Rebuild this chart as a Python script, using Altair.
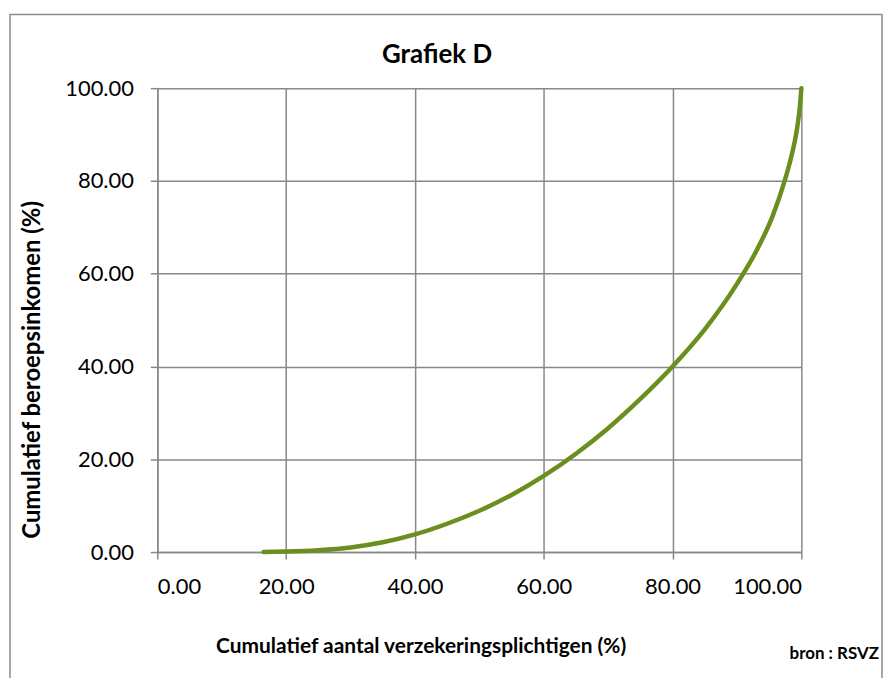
import altair as alt
import pandas as pd

# Lorenz-type curve
cum_workers = [16.5, 20.0, 25.0, 30.0, 35.0, 40.0, 45.0, 50.0, 55.0, 60.0, 65.0, 70.0,
               75.0, 80.0, 85.0, 90.0, 93.0, 95.5, 97.4, 98.5, 99.3, 99.8, 100.0]
cum_income = [0.0, 0.1, 0.4, 1.0, 2.1, 3.8, 6.1, 8.9, 12.3, 16.4, 21.2, 26.7,
              33.0, 40.0, 48.0, 57.8, 64.9, 72.3, 80.0, 85.6, 91.0, 96.5, 100.0]
tick_values = [0, 20, 40, 60, 80, 100]

title_text = "Grafiek D"
x_title = "Cumulatief aantal verzekeringsplichtigen (%)"
y_title = "Cumulatief beroepsinkomen (%)"
source_text = "bron : RSVZ"

df = pd.DataFrame({"x": cum_workers, "y": cum_income})
one = pd.DataFrame({"a": [0]})

FONT = "Lato"
GRID = "#888888"
W, H = 647, 466
PAD = {"left": 150, "top": 79, "right": 83, "bottom": 125}

xscale = alt.Scale(domain=[0, 100], nice=False)
yscale = alt.Scale(domain=[0, 100], nice=False)

border = alt.Chart(one).mark_rect(fillOpacity=0, stroke="#8c8c8c", strokeWidth=1.5).encode(
    x=alt.value(-148), x2=alt.value(W + PAD["right"] - 2),
    y=alt.value(-74), y2=alt.value(H + PAD["bottom"] + 20),
)

line = alt.Chart(df).mark_line(color="#6a8f1e", strokeWidth=4.5, interpolate="monotone",
                               strokeCap="round").encode(
    x=alt.X("x:Q", scale=xscale, title=None,
            axis=alt.Axis(values=tick_values, format=".2f", grid=True)),
    y=alt.Y("y:Q", scale=yscale, title=None,
            axis=alt.Axis(values=tick_values, format=".2f", grid=True)),
)

def label(text, x, y, size, angle=None):
    kw = dict(font=FONT, fontSize=size, fontWeight="bold", color="black",
              align="center", baseline="middle", text=text)
    if angle is not None:
        kw["angle"] = angle
    return alt.Chart(one).mark_text(**kw).encode(x=alt.value(x), y=alt.value(y))

chart = alt.layer(
    border,
    line,
    label(title_text, 281, -33, 26),
    label(x_title, 265, 95 + H, 21),
    label(source_text, 680, 102 + H, 17),
    label(y_title, -125, 283, 24, angle=270),
).properties(
    width=W, height=H,
    padding=PAD,
    autosize=alt.AutoSizeParams(type="none"),
).configure_view(stroke=None).configure_axis(
    labelFont=FONT, labelFontSize=22, labelFontWeight="normal", labelColor="black",
    domainColor=GRID, domainWidth=1.5,
    tickColor=GRID, tickWidth=1.5, tickSize=7,
    gridColor=GRID, gridWidth=1.5, gridOpacity=1,
).configure_axisX(labelPadding=18).configure_axisY(labelPadding=17)

chart.save("out.html", embed_options={"renderer": "svg", "actions": False})
